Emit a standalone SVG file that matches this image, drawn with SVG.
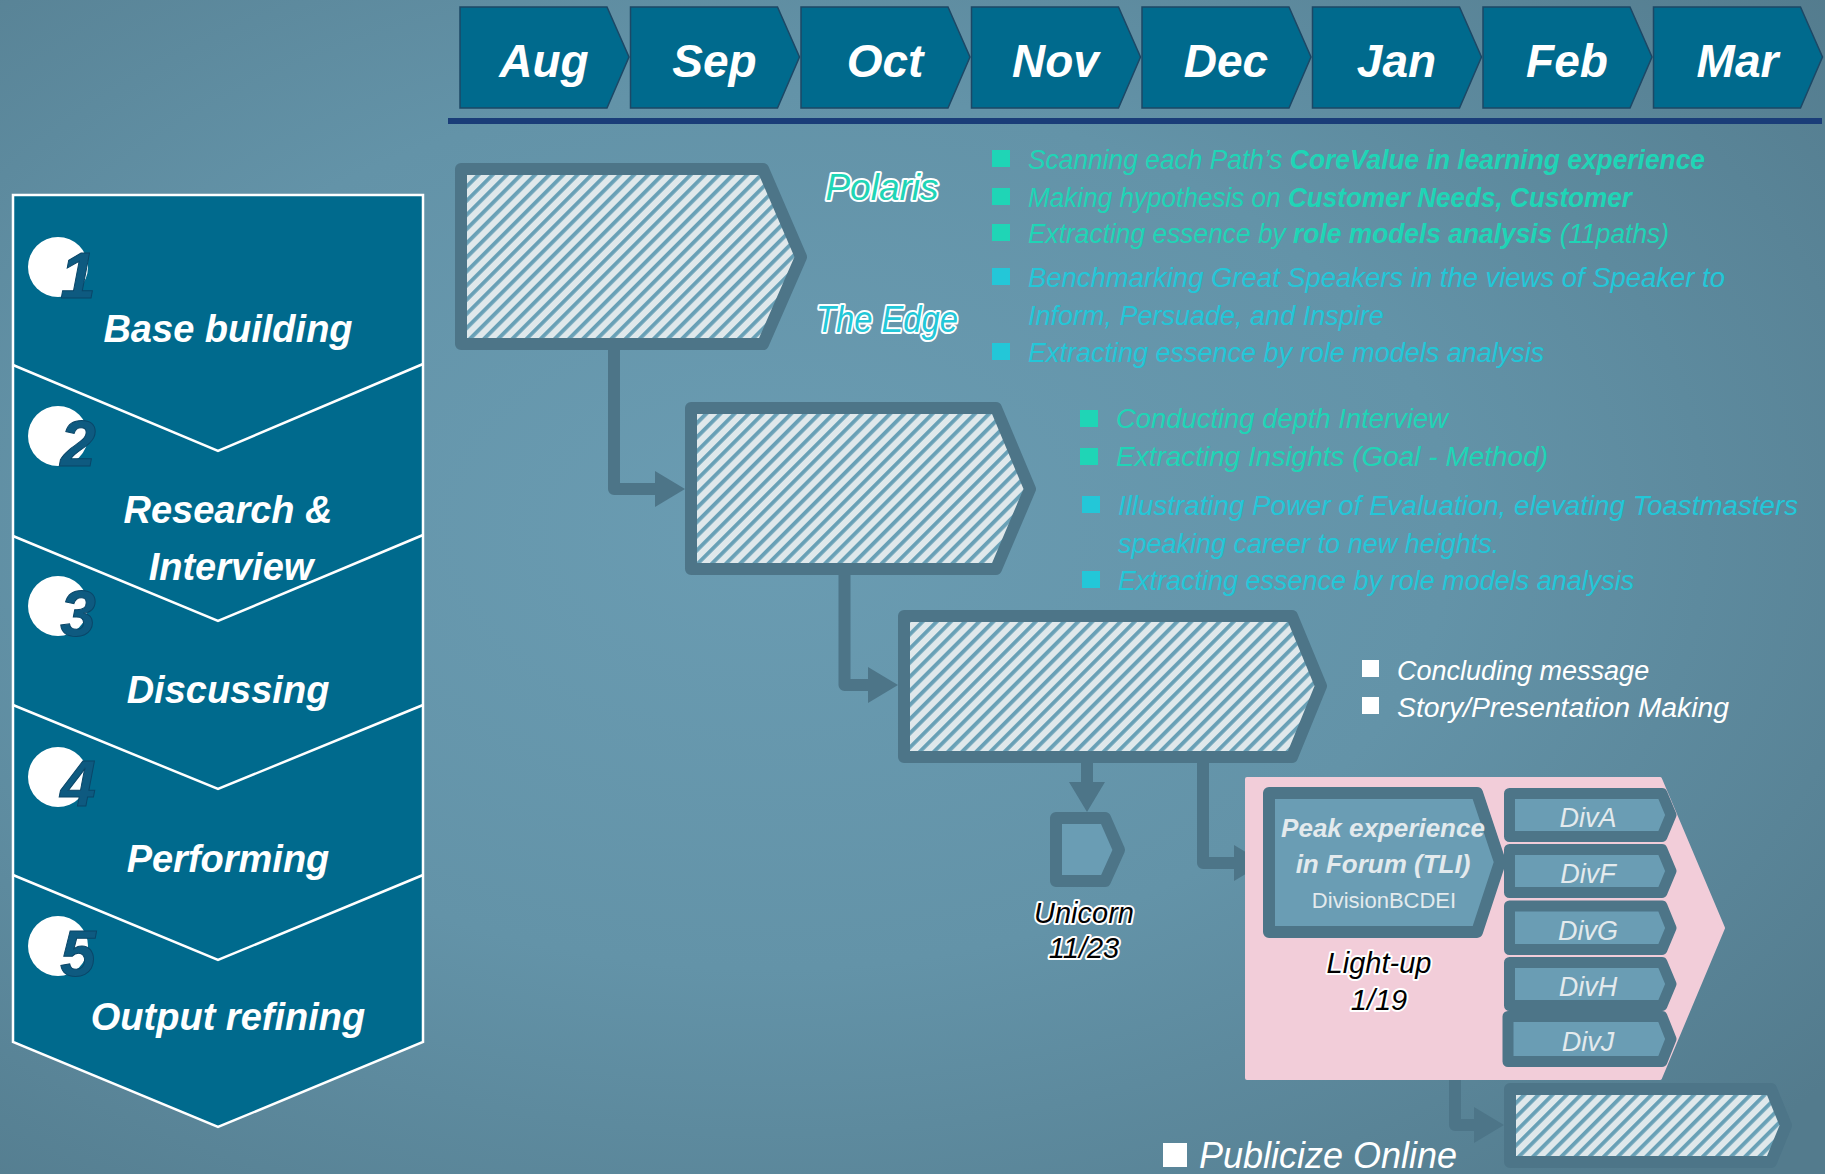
<svg xmlns="http://www.w3.org/2000/svg" width="1825" height="1174" viewBox="0 0 1825 1174">
  <defs>
    <radialGradient id="bg" cx="0.42" cy="0.45" r="0.75">
      <stop offset="0" stop-color="#6a9cb2"/>
      <stop offset="0.5" stop-color="#6393a8"/>
      <stop offset="1" stop-color="#537b8d"/>
    </radialGradient>
    <pattern id="hatch" patternUnits="userSpaceOnUse" width="10" height="10" patternTransform="rotate(45)">
      <rect width="10" height="10" fill="#dfe8eb"/>
      <rect width="3.8" height="10" fill="#68a0b6"/>
    </pattern>
    <marker id="arrow" markerUnits="userSpaceOnUse" viewBox="0 0 30 36" refX="0" refY="18" markerWidth="30" markerHeight="36" orient="auto">
      <path d="M0,0 L30,18 L0,36 Z" fill="#4d7588"/>
    </marker>
    <style>
      .tab { fill:#006a8d; stroke:#1c4866; stroke-width:1.5; }
      .mon { font-family:"Liberation Sans", Arial, sans-serif; font-style:italic; font-weight:bold; font-size:46px; fill:#ffffff; text-anchor:middle; }
      .panel { fill:#006a8d; stroke:#ffffff; stroke-width:2.5; stroke-linejoin:miter; }
      .sep { fill:none; stroke:#ffffff; stroke-width:2.5; }
      .step { font-family:"Liberation Sans", Arial, sans-serif; font-style:italic; font-weight:bold; font-size:38px; fill:#ffffff; text-anchor:middle; }
      .dot { fill:#ffffff; }
      .num { font-family:"Liberation Sans", Arial, sans-serif; font-style:italic; font-weight:bold; font-size:64px; fill:#0e5a80; stroke:#0a4668; stroke-width:1; text-anchor:middle; }
      .node { stroke:#4d7588; stroke-width:12; stroke-linejoin:round; }
      .div { stroke:#4d7588; stroke-width:11; stroke-linejoin:round; fill:#6a9db4; }
      .hatch { fill:url(#hatch); }
      .solid { fill:#6a9db4; }
      .conn { fill:none; stroke:#4d7588; stroke-width:12; stroke-linejoin:round; marker-end:url(#arrow); }
      .txt { font-family:"Liberation Sans", Arial, sans-serif; font-style:italic; font-size:27px; }
      .green { fill:#1fd5b6; }
      .cyan { fill:#23c7d8; }
      .white { fill:#ffffff; }
      .bold { font-weight:bold; }
      .brand { font-family:"Liberation Sans", Arial, sans-serif; font-style:italic; font-size:37px; stroke:#ffffff; stroke-width:4; paint-order:stroke; stroke-linejoin:round; text-anchor:middle; }
      .halo { font-family:"Liberation Sans", Arial, sans-serif; font-style:italic; font-size:29px; fill:#000000; stroke:#ffffff; stroke-width:4; paint-order:stroke; stroke-linejoin:round; text-anchor:middle; }
      .inbox { font-family:"Liberation Sans", Arial, sans-serif; fill:#e3eaed; text-anchor:middle; }
    </style>
  </defs>

  <!-- backdrop -->
  <rect width="1825" height="1174" fill="url(#bg)"/>

  <!-- month timeline -->
  <g id="months">
    <g id="m-aug"><path class="tab" d="M460,7 H607 L629,57 L607,108 H460 Z"/><text class="mon" x="544" y="77">Aug</text></g>
    <g id="m-sep"><path class="tab" d="M630.5,7 H777.5 L799.5,57 L777.5,108 H630.5 Z"/><text class="mon" x="714.5" y="77">Sep</text></g>
    <g id="m-oct"><path class="tab" d="M801,7 H948 L970,57 L948,108 H801 Z"/><text class="mon" x="885" y="77">Oct</text></g>
    <g id="m-nov"><path class="tab" d="M971.5,7 H1118.5 L1140.5,57 L1118.5,108 H971.5 Z"/><text class="mon" x="1055.5" y="77">Nov</text></g>
    <g id="m-dec"><path class="tab" d="M1142,7 H1289 L1311,57 L1289,108 H1142 Z"/><text class="mon" x="1226" y="77">Dec</text></g>
    <g id="m-jan"><path class="tab" d="M1312.5,7 H1459.5 L1481.5,57 L1459.5,108 H1312.5 Z"/><text class="mon" x="1396.5" y="77">Jan</text></g>
    <g id="m-feb"><path class="tab" d="M1483,7 H1630 L1652,57 L1630,108 H1483 Z"/><text class="mon" x="1567" y="77">Feb</text></g>
    <g id="m-mar"><path class="tab" d="M1653.5,7 H1800.5 L1822.5,57 L1800.5,108 H1653.5 Z"/><text class="mon" x="1737.5" y="77">Mar</text></g>
    <rect x="448" y="118" width="1374" height="6" fill="#1a3d78"/>
  </g>

  <!-- process steps -->
  <g id="steps">
    <path class="panel" d="M13,195 H423 V1042 L218,1127 L13,1042 Z"/>
    <g id="step1">
      <circle class="dot" cx="58" cy="267" r="30"/>
      <text class="num" x="78" y="298">1</text>
      <text class="step" x="228" y="342">Base building</text>
    </g>
    <g id="step2">
      <circle class="dot" cx="58" cy="436" r="30"/>
      <text class="num" x="78" y="466">2</text>
      <text class="step" x="228" y="523">Research &amp;</text>
      <text class="step" x="231" y="580">Interview</text>
    </g>
    <g id="step3">
      <circle class="dot" cx="58" cy="606" r="30"/>
      <text class="num" x="78" y="636">3</text>
      <text class="step" x="228" y="703">Discussing</text>
    </g>
    <g id="step4">
      <circle class="dot" cx="58" cy="777" r="30"/>
      <text class="num" x="78" y="806">4</text>
      <text class="step" x="228" y="872">Performing</text>
    </g>
    <g id="step5">
      <circle class="dot" cx="58" cy="946" r="30"/>
      <text class="num" x="78" y="976">5</text>
      <text class="step" x="228" y="1030">Output refining</text>
    </g>
    <polyline class="sep" points="13,365 218,451 423,364"/>
    <polyline class="sep" points="13,536 218,621 423,535"/>
    <polyline class="sep" points="13,705 218,789 423,705"/>
    <polyline class="sep" points="13,875 218,960 423,875"/>
  </g>

  <!-- connectors -->
  <g id="connectors">
    <path class="conn" d="M614,350 V489 H655"/>
    <path class="conn" d="M844.5,575 V685 H868"/>
    <path class="conn" d="M1087,763 V782"/>
    <path class="conn" d="M1203,763 V863 H1234"/>
    <path class="conn" d="M1455,1073 V1125 H1474"/>
  </g>

  <!-- base building -->
  <g id="node-base">
    <path class="node hatch" d="M461,169 H763 L801,257 L763,344 H461 Z"/>
  </g>
  <g id="label-polaris">
    <text class="brand" x="882" y="200" fill="#1fd5b6">Polaris</text>
    <text class="brand" x="887" y="332" fill="#23c7d8" textLength="142" lengthAdjust="spacingAndGlyphs">The Edge</text>
  </g>
  <g id="notes-base" class="txt">
    <rect class="green" x="992" y="150" width="18" height="17"/>
    <text class="green" x="1028" y="169" textLength="677" lengthAdjust="spacingAndGlyphs">Scanning each Path’s <tspan class="bold">CoreValue in learning experience</tspan></text>
    <rect class="green" x="992" y="188" width="18" height="17"/>
    <text class="green" x="1028" y="207" textLength="604" lengthAdjust="spacingAndGlyphs">Making hypothesis on <tspan class="bold">Customer Needs, Customer</tspan></text>
    <rect class="green" x="992" y="224" width="18" height="17"/>
    <text class="green" x="1028" y="243" textLength="641" lengthAdjust="spacingAndGlyphs">Extracting essence by <tspan class="bold">role models analysis</tspan> (11paths)</text>
    <rect class="cyan" x="992" y="268" width="18" height="17"/>
    <text class="cyan" x="1028" y="287" textLength="697" lengthAdjust="spacingAndGlyphs">Benchmarking Great Speakers in the views of Speaker to</text>
    <text class="cyan" x="1028" y="325">Inform, Persuade, and Inspire</text>
    <rect class="cyan" x="992" y="343" width="18" height="17"/>
    <text class="cyan" x="1028" y="362">Extracting essence by role models analysis</text>
  </g>

  <!-- research & interview -->
  <g id="node-research">
    <path class="node hatch" d="M691,408 H996 L1030,489 L996,569 H691 Z"/>
  </g>
  <g id="notes-research" class="txt">
    <rect class="green" x="1080" y="410" width="18" height="17"/>
    <text class="green" x="1116" y="428" textLength="332" lengthAdjust="spacingAndGlyphs">Conducting depth Interview</text>
    <rect class="green" x="1080" y="448" width="18" height="17"/>
    <text class="green" x="1116" y="466" textLength="432" lengthAdjust="spacingAndGlyphs">Extracting Insights (Goal - Method)</text>
    <rect class="cyan" x="1082" y="496" width="18" height="17"/>
    <text class="cyan" x="1118" y="515" textLength="680" lengthAdjust="spacingAndGlyphs">Illustrating Power of Evaluation, elevating Toastmasters</text>
    <text class="cyan" x="1118" y="553">speaking career to new heights.</text>
    <rect class="cyan" x="1082" y="571" width="18" height="17"/>
    <text class="cyan" x="1118" y="590">Extracting essence by role models analysis</text>
  </g>

  <!-- discussing -->
  <g id="node-discuss">
    <path class="node hatch" d="M904,616 H1292 L1321,686 L1292,757 H904 Z"/>
  </g>
  <g id="notes-discuss" class="txt">
    <rect class="white" x="1362" y="660" width="17" height="17"/>
    <text class="white" x="1397" y="680">Concluding message</text>
    <rect class="white" x="1362" y="697" width="17" height="17"/>
    <text class="white" x="1397" y="717" textLength="332" lengthAdjust="spacingAndGlyphs">Story/Presentation Making</text>
  </g>

  <!-- unicorn -->
  <g id="node-unicorn">
    <path class="node solid" d="M1056,818 H1105 L1119,850 L1105,881 H1056 Z"/>
    <text class="halo" x="1084" y="923">Unicorn</text>
    <text class="halo" x="1084" y="958">11/23</text>
  </g>

  <!-- light-up -->
  <g id="node-lightup">
    <path d="M1247,779 H1660 L1723,928 L1660,1078 H1247 Z" fill="#f2cdd9" stroke="#f2cdd9" stroke-width="4" stroke-linejoin="round"/>
    <path class="node solid" d="M1269,793 H1477 L1500,862 L1477,932 H1269 Z"/>
    <text class="inbox" x="1383" y="837" font-size="26" font-weight="bold" font-style="italic">Peak experience</text>
    <text class="inbox" x="1383" y="873" font-size="26" font-weight="bold" font-style="italic">in Forum (TLI)</text>
    <text class="inbox" x="1384" y="908" font-size="22">DivisionBCDEI</text>
    <text class="halo" x="1379" y="973">Light-up</text>
    <text class="halo" x="1379" y="1010">1/19</text>
  </g>
  <g id="node-diva">
    <path class="div" d="M1509.5,793.5 H1662 L1671,815 L1662,836.5 H1509.5 Z"/>
    <text class="inbox" x="1588" y="827" font-size="27" font-style="italic">DivA</text>
  </g>
  <g id="node-divf">
    <path class="div" d="M1509.5,849.5 H1662 L1671,871 L1662,892.5 H1509.5 Z"/>
    <text class="inbox" x="1588" y="883" font-size="27" font-style="italic">DivF</text>
  </g>
  <g id="node-divg">
    <path class="div" d="M1509.5,906 H1662 L1671,928 L1662,949.5 H1509.5 Z"/>
    <text class="inbox" x="1588" y="940" font-size="27" font-style="italic">DivG</text>
  </g>
  <g id="node-divh">
    <path class="div" d="M1509.5,962.5 H1662 L1671,984 L1662,1005.5 H1509.5 Z"/>
    <text class="inbox" x="1588" y="996" font-size="27" font-style="italic">DivH</text>
  </g>
  <g id="node-divj">
    <path class="div" d="M1508,1016.5 H1662 L1671,1039 L1662,1061.5 H1508 Z"/>
    <text class="inbox" x="1588" y="1051" font-size="27" font-style="italic">DivJ</text>
  </g>

  <!-- output refining -->
  <g id="node-publicize">
    <path class="node hatch" d="M1510,1089 H1771 L1786,1125.5 L1771,1162 H1510 Z"/>
    <rect class="white" x="1163" y="1143" width="24" height="24"/>
    <text class="white" x="1199" y="1168" font-family="Liberation Sans, Arial, sans-serif" font-style="italic" font-size="36">Publicize Online</text>
  </g>
</svg>
